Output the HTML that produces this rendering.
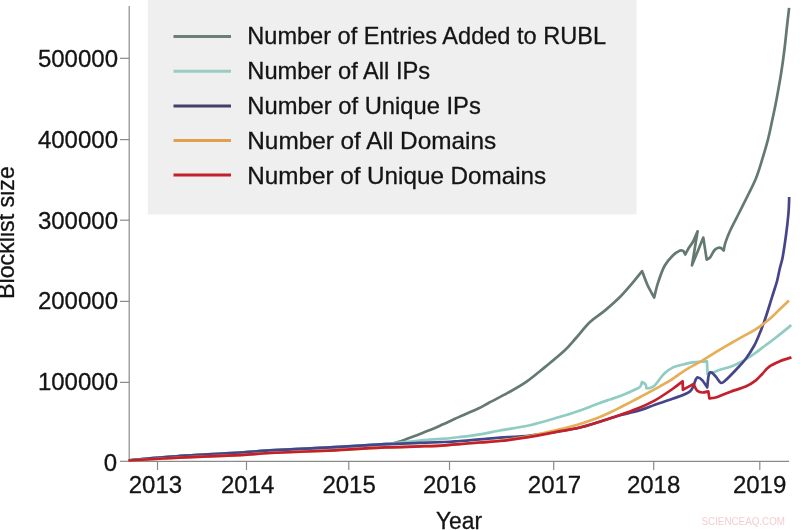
<!DOCTYPE html>
<html><head><meta charset="utf-8"><style>
html,body{margin:0;padding:0;background:#fff;}
body{width:800px;height:530px;overflow:hidden;}
svg{display:block;will-change:transform;}
text{font-family:"Liberation Sans",Arial,sans-serif;fill:#141414;stroke:#141414;stroke-width:0.3px;}
</style></head><body>
<svg width="800" height="530" viewBox="0 0 800 530">
<rect x="0" y="0" width="800" height="530" fill="#fff"/>
<rect x="147.8" y="0" width="488.7" height="214.5" fill="#efefef"/>
<g font-size="24">
<line x1="173.5" y1="36.4" x2="231" y2="36.4" stroke="#6b7f76" stroke-width="3"/>
<text x="247.3" y="44.4" textLength="358.7" lengthAdjust="spacingAndGlyphs">Number of Entries Added to RUBL</text>
<line x1="173.5" y1="71.2" x2="231" y2="71.2" stroke="#9ccbc4" stroke-width="3"/>
<text x="247.3" y="79.2" textLength="182.8" lengthAdjust="spacingAndGlyphs">Number of All IPs</text>
<line x1="173.5" y1="105.9" x2="231" y2="105.9" stroke="#453f68" stroke-width="3"/>
<text x="247.3" y="114.0" textLength="233.5" lengthAdjust="spacingAndGlyphs">Number of Unique IPs</text>
<line x1="173.5" y1="140.5" x2="231" y2="140.5" stroke="#e0a14f" stroke-width="3"/>
<text x="247.3" y="149.0" textLength="248.8" lengthAdjust="spacingAndGlyphs">Number of All Domains</text>
<line x1="173.5" y1="175.1" x2="231" y2="175.1" stroke="#c2202b" stroke-width="3"/>
<text x="247.3" y="184.2" textLength="298.9" lengthAdjust="spacingAndGlyphs">Number of Unique Domains</text>
</g>
<g stroke="#8a8a8a" stroke-width="1.2">
<line x1="129.2" y1="6" x2="129.2" y2="461.9"/>
<line x1="128.6" y1="461.3" x2="789" y2="461.3"/>
<line x1="120" y1="58.3" x2="129" y2="58.3"/>
<line x1="120" y1="139.6" x2="129" y2="139.6"/>
<line x1="120" y1="220.2" x2="129" y2="220.2"/>
<line x1="120" y1="301.4" x2="129" y2="301.4"/>
<line x1="120" y1="382.4" x2="129" y2="382.4"/>
<line x1="120" y1="461.3" x2="129" y2="461.3"/>
<line x1="157.5" y1="461.3" x2="157.5" y2="470"/>
<line x1="246.5" y1="461.3" x2="246.5" y2="470"/>
<line x1="348.8" y1="461.3" x2="348.8" y2="470"/>
<line x1="449.5" y1="461.3" x2="449.5" y2="470"/>
<line x1="553.7" y1="461.3" x2="553.7" y2="470"/>
<line x1="653.7" y1="461.3" x2="653.7" y2="470"/>
<line x1="759.8" y1="461.3" x2="759.8" y2="470"/>
</g>
<g font-size="24">
<text x="118.0" y="66.7" text-anchor="end">500000</text>
<text x="118.0" y="147.9" text-anchor="end">400000</text>
<text x="118.0" y="228.6" text-anchor="end">300000</text>
<text x="118.0" y="309.1" text-anchor="end">200000</text>
<text x="118.0" y="390.2" text-anchor="end">100000</text>
<text x="117.2" y="470.8" text-anchor="end">0</text>
<text x="128.7" y="492.8">2013</text>
<text x="221.0" y="492.8">2014</text>
<text x="322.4" y="492.8">2015</text>
<text x="423.0" y="492.8">2016</text>
<text x="527.8" y="492.8">2017</text>
<text x="626.9" y="492.8">2018</text>
<text x="732.9" y="492.8">2019</text>
</g>
<text x="0" y="0" font-size="23" transform="translate(13.8,298.9) rotate(-90)" textLength="132.7" lengthAdjust="spacingAndGlyphs">Blocklist size</text>
<text x="436" y="529" font-size="23" textLength="46" lengthAdjust="spacingAndGlyphs">Year</text>
<text x="701.5" y="525" font-size="11" style="fill:#f3cdd1;stroke:none" textLength="83.5" lengthAdjust="spacingAndGlyphs">SCIENCEAQ.COM</text>
<g fill="none" stroke-width="2.7" stroke-linejoin="round" stroke-linecap="butt">
<path d="M128.5,460.3 C137.9,459.5 166.4,456.9 185.0,455.6 C203.6,454.3 225.8,453.5 240.0,452.6 C254.2,451.7 254.2,451.2 270.0,450.3 C285.8,449.4 315.8,448.2 335.0,447.2 C354.2,446.2 375.0,444.9 385.0,444.2 C395.0,443.5 392.2,443.5 395.0,442.9 C397.8,442.3 398.2,442.0 402.0,440.7 C405.8,439.4 412.8,436.7 417.5,434.9 C422.2,433.1 425.8,431.8 430.0,430.1 C434.2,428.4 438.3,426.5 442.5,424.6 C446.7,422.7 450.8,420.7 455.0,418.8 C459.2,416.9 463.5,414.9 467.5,413.2 C471.5,411.4 475.2,410.0 478.8,408.3 C482.3,406.6 484.1,405.4 488.9,402.8 C493.7,400.2 501.4,396.4 507.7,392.9 C514.0,389.4 520.3,386.0 526.6,381.6 C532.9,377.2 539.2,371.7 545.5,366.6 C551.8,361.5 559.2,355.6 564.3,350.8 C569.4,346.0 571.7,342.8 576.0,338.0 C580.3,333.2 585.1,326.6 590.0,322.0 C594.9,317.4 600.1,314.6 605.1,310.4 C610.1,306.2 615.7,301.3 620.2,296.8 C624.7,292.3 628.6,287.5 632.3,283.2 C635.9,278.9 640.5,273.1 642.1,271.1 C643.0,273.5 645.6,280.9 647.6,285.3 C649.6,289.7 653.1,295.5 654.2,297.5 C654.8,295.1 656.2,288.4 657.9,283.2 C659.6,277.9 662.1,270.5 664.5,266.0 C666.9,261.5 669.5,258.8 672.1,256.2 C674.7,253.6 678.2,251.4 680.1,250.6 C682.0,249.8 682.9,251.0 683.5,251.1 C683.8,251.7 684.9,253.9 685.2,254.5 C685.8,253.5 687.3,250.5 688.6,248.3 C689.9,246.1 691.6,244.3 693.1,241.5 C694.6,238.7 696.9,233.0 697.6,231.3 C696.7,237.0 692.9,259.6 692.0,265.3 C693.9,260.7 701.4,242.2 703.3,237.6 C703.9,241.3 706.1,255.9 706.7,259.6 C707.3,259.2 708.8,259.0 710.1,257.4 C711.4,255.8 713.2,251.6 714.6,250.0 C716.0,248.4 717.5,248.0 718.6,247.7 C719.7,247.4 720.5,247.8 721.4,248.3 C722.2,248.8 723.3,250.2 723.7,250.6 C724.0,249.3 724.3,245.9 725.4,242.6 C726.5,239.2 727.9,235.5 730.2,230.5 C732.5,225.5 736.3,218.5 739.3,212.5 C742.3,206.5 745.5,200.2 748.3,194.5 C751.1,188.8 753.6,184.2 755.9,178.5 C758.2,172.8 759.9,166.9 761.9,160.4 C763.9,153.9 766.2,146.2 768.0,139.3 C769.8,132.4 771.0,125.9 772.5,119.0 C774.0,112.1 775.4,105.6 776.8,98.0 C778.2,90.4 779.8,81.7 781.1,73.5 C782.4,65.3 783.5,57.2 784.5,49.0 C785.5,40.8 786.4,31.4 787.2,24.5 C788.0,17.6 788.8,10.6 789.1,7.8" stroke="#64796f"/>
<path d="M128.5,460.3 C137.9,459.5 166.4,456.9 185.0,455.6 C203.6,454.3 225.8,453.5 240.0,452.6 C254.2,451.7 254.2,451.2 270.0,450.3 C285.8,449.4 315.8,448.2 335.0,447.2 C354.2,446.2 374.2,445.0 385.0,444.2 C395.8,443.4 395.0,443.1 400.0,442.6 C405.0,442.1 410.0,441.6 415.0,441.1 C420.0,440.6 425.0,440.1 430.0,439.7 C435.0,439.3 440.0,439.1 445.0,438.7 C450.0,438.2 454.2,437.7 460.0,437.0 C465.8,436.3 473.3,435.4 480.0,434.3 C486.7,433.2 491.7,432.0 500.0,430.5 C508.3,429.0 520.8,427.2 530.0,425.2 C539.2,423.2 546.7,420.8 555.0,418.3 C563.3,415.9 573.1,412.9 580.0,410.5 C586.9,408.1 591.4,406.0 596.4,404.2 C601.4,402.4 605.6,401.0 610.0,399.5 C614.4,398.0 618.4,396.8 622.8,395.0 C627.2,393.2 633.4,390.4 636.3,389.0 C639.2,387.6 639.3,387.7 640.3,386.5 C641.2,385.3 641.7,382.8 642.0,382.0 C642.6,382.4 644.6,383.1 645.4,384.1 C646.1,385.2 646.3,387.6 646.5,388.3 C647.1,388.2 648.6,388.4 649.9,388.0 C651.2,387.6 652.9,387.1 654.4,385.8 C655.9,384.5 657.3,382.2 659.0,380.1 C660.7,378.0 662.3,375.4 664.6,373.3 C666.9,371.2 669.2,369.2 672.6,367.6 C676.0,366.1 681.7,364.9 685.0,364.0 C688.3,363.1 688.9,362.8 692.6,362.4 C696.3,362.0 704.6,361.6 707.0,361.4 C707.1,363.5 707.4,371.9 707.5,374.0 C708.6,373.7 711.9,372.7 714.0,372.0 C716.1,371.3 717.1,370.7 720.0,369.8 C722.9,368.9 727.5,367.8 731.3,366.4 C735.1,365.0 738.8,363.4 742.6,361.3 C746.4,359.2 750.2,356.6 754.0,354.0 C757.8,351.4 761.5,348.3 765.3,345.5 C769.1,342.7 772.3,340.4 776.6,337.0 C780.9,333.6 788.8,327.1 791.3,325.1" stroke="#8fcdc3"/>
<path d="M128.5,460.3 C137.9,459.5 166.4,456.9 185.0,455.6 C203.6,454.3 225.8,453.5 240.0,452.6 C254.2,451.7 254.2,451.2 270.0,450.3 C285.8,449.4 315.8,448.2 335.0,447.2 C354.2,446.2 370.8,444.9 385.0,444.2 C399.2,443.5 410.0,443.3 420.0,442.9 C430.0,442.5 438.3,442.3 445.0,442.0 C451.7,441.7 454.2,441.4 460.0,441.0 C465.8,440.6 473.3,439.9 480.0,439.3 C486.7,438.8 491.7,438.3 500.0,437.7 C508.3,437.1 520.0,436.6 530.0,435.5 C540.0,434.4 551.7,432.5 560.0,431.2 C568.3,429.9 573.9,428.9 580.0,427.5 C586.1,426.1 589.7,424.8 596.4,422.8 C603.1,420.8 612.4,417.5 620.0,415.3 C627.6,413.1 636.1,411.4 641.9,409.6 C647.7,407.8 649.9,406.5 655.0,404.7 C660.1,402.9 666.7,401.0 672.5,398.8 C678.3,396.6 686.1,394.6 690.0,391.4 C693.9,388.1 694.5,381.6 695.9,379.3 C697.2,377.0 697.0,377.3 698.1,377.5 C699.2,377.7 701.1,379.0 702.6,380.6 C704.1,382.2 706.4,386.3 707.2,387.4 C707.5,385.2 708.1,376.8 708.9,374.3 C709.6,371.8 710.5,372.1 711.7,372.6 C712.9,373.1 714.7,375.5 716.2,377.2 C717.7,378.9 719.3,382.2 720.8,382.8 C722.3,383.4 722.6,382.9 725.3,380.5 C728.0,378.1 733.5,372.4 737.0,368.7 C740.5,365.0 743.2,362.3 746.0,358.5 C748.8,354.7 751.7,350.1 754.0,346.0 C756.3,341.9 758.0,337.4 759.6,333.6 C761.2,329.8 762.4,326.6 763.6,323.4 C764.8,320.2 765.6,317.7 766.6,314.5 C767.6,311.3 768.8,307.7 769.9,304.0 C771.0,300.3 772.3,296.4 773.5,292.5 C774.7,288.6 776.2,284.5 777.2,280.5 C778.2,276.5 778.9,272.3 779.8,268.5 C780.7,264.7 781.6,262.9 782.6,257.5 C783.6,252.1 784.9,243.2 785.9,236.0 C786.9,228.8 787.8,220.5 788.4,214.0 C789.0,207.5 789.1,199.8 789.2,197.0" stroke="#45458a"/>
<path d="M128.5,460.5 C137.9,460.0 166.4,458.3 185.0,457.4 C203.6,456.5 225.8,455.8 240.0,455.1 C254.2,454.4 254.2,453.8 270.0,453.0 C285.8,452.2 315.8,451.2 335.0,450.3 C354.2,449.4 370.8,448.0 385.0,447.4 C399.2,446.8 410.0,446.8 420.0,446.4 C430.0,446.0 438.3,445.7 445.0,445.3 C451.7,444.9 454.2,444.5 460.0,444.0 C465.8,443.5 473.3,442.9 480.0,442.3 C486.7,441.7 491.7,441.7 500.0,440.6 C508.3,439.6 520.0,437.9 530.0,436.0 C540.0,434.1 553.3,430.7 560.0,429.2 C566.7,427.7 566.2,427.8 570.0,426.8 C573.8,425.8 578.7,424.4 583.0,423.0 C587.3,421.6 591.5,420.2 596.0,418.5 C600.5,416.8 605.7,414.5 610.0,412.5 C614.3,410.5 617.5,408.8 622.0,406.5 C626.5,404.2 632.3,401.2 637.0,398.8 C641.7,396.4 646.2,393.9 650.0,391.8 C653.8,389.7 656.3,388.4 660.0,386.3 C663.7,384.2 667.8,382.0 672.0,379.3 C676.2,376.6 679.9,373.5 685.0,370.3 C690.1,367.1 696.8,363.8 702.6,360.3 C708.4,356.9 715.2,352.5 720.0,349.6 C724.8,346.7 727.5,345.2 731.3,343.0 C735.1,340.8 738.8,338.7 742.6,336.6 C746.4,334.5 750.2,332.8 754.0,330.4 C757.8,328.0 762.2,324.9 765.3,322.5 C768.4,320.1 770.4,318.4 772.7,316.3 C775.0,314.2 776.3,312.6 779.0,310.0 C781.7,307.4 787.3,302.1 789.0,300.5" stroke="#e6ae56"/>
<path d="M128.5,460.5 C137.9,460.0 166.4,458.3 185.0,457.4 C203.6,456.5 225.8,455.8 240.0,455.1 C254.2,454.4 254.2,453.8 270.0,453.0 C285.8,452.2 315.8,451.2 335.0,450.3 C354.2,449.4 370.8,448.0 385.0,447.4 C399.2,446.8 410.0,446.8 420.0,446.4 C430.0,446.0 438.3,445.7 445.0,445.3 C451.7,444.9 454.2,444.7 460.0,444.2 C465.8,443.7 473.3,443.0 480.0,442.5 C486.7,442.0 491.7,441.9 500.0,441.0 C508.3,440.1 520.0,438.4 530.0,436.8 C540.0,435.2 551.7,432.8 560.0,431.2 C568.3,429.6 573.9,428.9 580.0,427.5 C586.1,426.1 589.7,424.9 596.4,422.8 C603.1,420.7 613.1,417.4 620.0,415.0 C626.9,412.6 631.7,410.9 637.5,408.5 C643.3,406.1 649.2,403.6 655.0,400.3 C660.8,397.1 667.9,392.2 672.5,389.0 C677.1,385.8 680.9,382.6 682.6,381.3 C682.6,382.7 682.9,388.4 682.9,389.8 C684.7,388.8 691.8,385.0 693.6,384.0 C694.2,385.1 695.5,389.0 697.0,390.4 C698.5,391.8 700.7,392.4 702.6,392.5 C704.5,392.6 707.3,391.5 708.3,391.3 C708.5,392.5 709.2,397.3 709.4,398.5 C710.7,398.2 714.0,398.1 717.4,397.0 C720.8,395.9 725.3,393.6 730.0,391.9 C734.7,390.1 741.5,388.4 745.7,386.5 C750.0,384.6 752.8,382.7 755.5,380.6 C758.2,378.6 759.8,376.5 762.0,374.2 C764.2,371.9 766.0,369.0 769.0,366.8 C772.0,364.6 776.6,362.7 780.3,361.1 C784.0,359.5 789.5,358.0 791.4,357.4" stroke="#c3202b"/>
</g>
</svg>
</body></html>
